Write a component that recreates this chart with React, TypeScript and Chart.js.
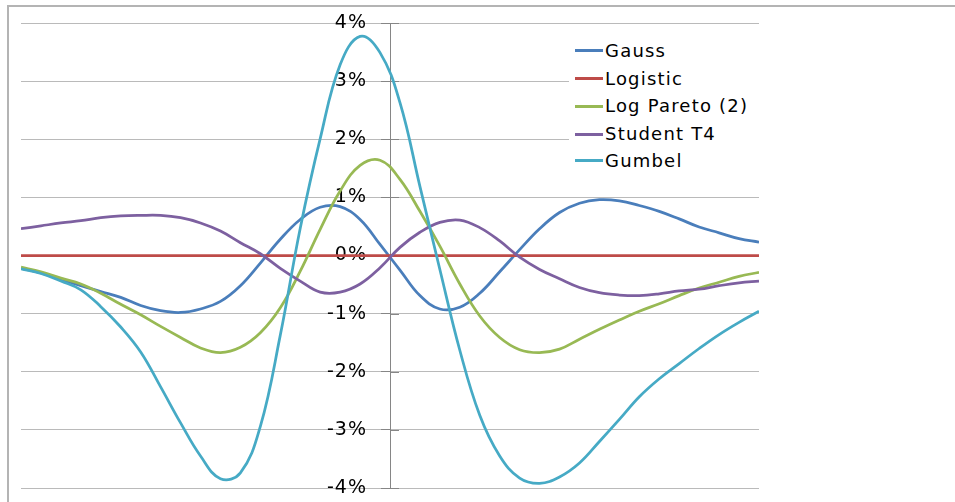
import React, { useEffect, useRef } from "react";
import { Chart, registerables } from "chart.js";

Chart.register(...registerables);

const xCategories = [
  -3.7, -3.5, -3.3, -3.1, -2.9, -2.7, -2.5, -2.3, -2.1, -1.9, -1.7, -1.5, -1.3,
  -1.1, -0.9, -0.7, -0.5, -0.3, -0.1, 0.1, 0.3, 0.5, 0.7, 0.9, 1.1, 1.3, 1.5,
  1.7, 1.9, 2.1, 2.3, 2.5, 2.7, 2.9, 3.1, 3.3, 3.5, 3.7,
];

const gauss = [
  -0.22, -0.3, -0.41, -0.52, -0.62, -0.72, -0.86, -0.95, -0.98, -0.92, -0.79,
  -0.52, -0.13, 0.28, 0.62, 0.83, 0.84, 0.62, 0.19, -0.25, -0.69, -0.92, -0.89,
  -0.65, -0.28, 0.1, 0.46, 0.74, 0.9, 0.96, 0.94, 0.86, 0.76, 0.63, 0.49, 0.39,
  0.29, 0.23,
];

const logistic = [
  0, 0, 0, 0, 0, 0, 0, 0, 0, 0, 0, 0, 0, 0, 0, 0, 0, 0, 0, 0, 0, 0, 0, 0, 0, 0,
  0, 0, 0, 0, 0, 0, 0, 0, 0, 0, 0, 0,
];

const logPareto = [
  -0.2, -0.28, -0.39, -0.49, -0.65, -0.84, -1.02, -1.22, -1.41, -1.59, -1.67,
  -1.58, -1.33, -0.9, -0.27, 0.45, 1.11, 1.55, 1.64, 1.31, 0.76, 0.16, -0.49,
  -1.04, -1.41, -1.62, -1.67, -1.61, -1.44, -1.27, -1.11, -0.96, -0.83, -0.69,
  -0.56, -0.46, -0.36, -0.29,
];

const studentT4 = [
  0.46, 0.51, 0.56, 0.6, 0.65, 0.68, 0.69, 0.69, 0.65, 0.56, 0.42, 0.22, 0.03,
  -0.22, -0.44, -0.63, -0.63, -0.49, -0.21, 0.14, 0.4, 0.57, 0.61, 0.48, 0.25,
  -0.03, -0.24, -0.4, -0.55, -0.64, -0.68, -0.69, -0.66, -0.61, -0.58, -0.52,
  -0.47, -0.44,
];

const gumbel = [
  -0.23, -0.31, -0.44, -0.59, -0.88, -1.23, -1.66, -2.26, -2.88, -3.45, -3.84,
  -3.74, -2.94, -1.37, 0.47, 2.01, 3.28, 3.77, 3.49, 2.63, 1.19, -0.24, -1.63,
  -2.75, -3.45, -3.83, -3.92, -3.81, -3.57, -3.2, -2.82, -2.43, -2.12, -1.86,
  -1.6, -1.36, -1.15, -0.96,
];

const seriesNames = ["Gauss", "Logistic", "Log Pareto (2)", "Student T4", "Gumbel"];
const seriesColors = ["#4A7EBB", "#BE4B48", "#98B954", "#7D60A0", "#46AAC5"];
const seriesValues = [gauss, logistic, logPareto, studentT4, gumbel];

const yMin = -4;
const yMax = 4;
const yStep = 1;

const FONT = "'DejaVu Sans', 'Liberation Sans', sans-serif";

export default function App() {
  const ref = useRef<HTMLCanvasElement>(null);

  useEffect(() => {
    if (!ref.current) return;

    const spacingPlugin = {
      id: "spacing",
      beforeDraw(chart: any) {
        try {
          chart.ctx.letterSpacing = "1px";
        } catch (e) {}
      },
    };

    const crossTicks = {
      id: "crossTicks",
      beforeDatasetsDraw(chart: any) {
        const ys = chart.scales.y;
        const xs = chart.scales.x;
        const ax = Math.round(xs.getPixelForValue(0));
        const ctx = chart.ctx;
        ctx.save();
        ctx.strokeStyle = "#868686";
        ctx.lineWidth = 1;
        ys.ticks.forEach((t: any) => {
          const py = Math.round(ys.getPixelForValue(t.value)) + 0.5;
          ctx.beginPath();
          ctx.moveTo(ax, py);
          ctx.lineTo(ax + 9, py);
          ctx.stroke();
        });
        ctx.restore();
      },
    };

    const chart = new Chart(ref.current, {
      type: "line",
      data: {
        datasets: seriesNames.map((name, s) => ({
          label: name,
          data: xCategories.map((x, i) => ({ x, y: seriesValues[s][i] })),
          borderColor: seriesColors[s],
          backgroundColor: seriesColors[s],
          borderWidth: 2.75,
          pointRadius: 0,
          tension: 0.4,
          fill: false,
          order: seriesNames.length - s,
        })),
      },
      options: {
        animation: false,
        responsive: false,
        maintainAspectRatio: false,
        layout: { padding: { left: 21, right: 196, top: 23, bottom: 14 } },
        plugins: {
          legend: { display: false },
          tooltip: { enabled: false },
          title: { display: false },
        },
        scales: {
          x: { type: "linear", min: xCategories[0], max: xCategories[xCategories.length - 1], display: false },
          y: {
            type: "linear",
            min: yMin,
            max: yMax,
            position: { x: 0 } as any,
            ticks: {
              stepSize: yStep,
              callback: (v: any) => `${v}%`,
              color: "#000",
              font: { family: FONT, size: 19 },
              padding: 0,
            },
            grid: {
              color: "#bababa",
              lineWidth: 1,
              tickLength: 9,
              tickColor: "#868686",
            },
            border: { color: "#868686", width: 1 },
            afterUpdate(scale: any) {
              if (scale.__shifted) return;
              scale.__shifted = true;
              const orig = scale._computeLabelItems;
              scale._computeLabelItems = function (area: any) {
                const items = orig.call(this, area);
                items.forEach((it: any) => {
                  if (it.options && it.options.translation) it.options.translation[0] -= 23;
                });
                return items;
              };
            },
          },
        },
      },
      plugins: [spacingPlugin, crossTicks],
    } as any);

    return () => chart.destroy();
  }, []);

  const legendCenters = [50.7, 78.5, 106.3, 134, 160.7];

  return (
    <div
      style={{
        position: "fixed",
        left: 0,
        top: 0,
        width: 955,
        height: 502,
        overflow: "hidden",
        background: "#fff",
      }}
    >
      <div
        style={{
          position: "absolute",
          left: 7,
          top: 5,
          width: 2000,
          height: 1000,
          borderLeft: "2px solid #b4b4b4",
          borderTop: "2px solid #b4b4b4",
        }}
      />
      <canvas
        ref={ref}
        width={955}
        height={502}
        style={{ position: "absolute", left: 0, top: 0, width: 955, height: 502, display: "block" }}
      />
      <div
        style={{
          position: "absolute",
          left: 569,
          top: 33,
          width: 192,
          height: 142,
          background: "#fff",
        }}
      >
        {seriesNames.map((name, i) => (
          <div
            key={name}
            style={{
              position: "absolute",
              left: 0,
              top: legendCenters[i] - 33 - 14,
              height: 28,
              display: "flex",
              alignItems: "center",
              whiteSpace: "nowrap",
            }}
          >
            <div style={{ width: 6 }} />
            <div style={{ width: 28, height: 3, background: seriesColors[i] }} />
            <span
              style={{
                marginLeft: 2,
                fontFamily: FONT,
                fontSize: 18,
                letterSpacing: "1.2px",
                color: "#000",
                lineHeight: "28px",
              }}
            >
              {name}
            </span>
          </div>
        ))}
      </div>
    </div>
  );
}
